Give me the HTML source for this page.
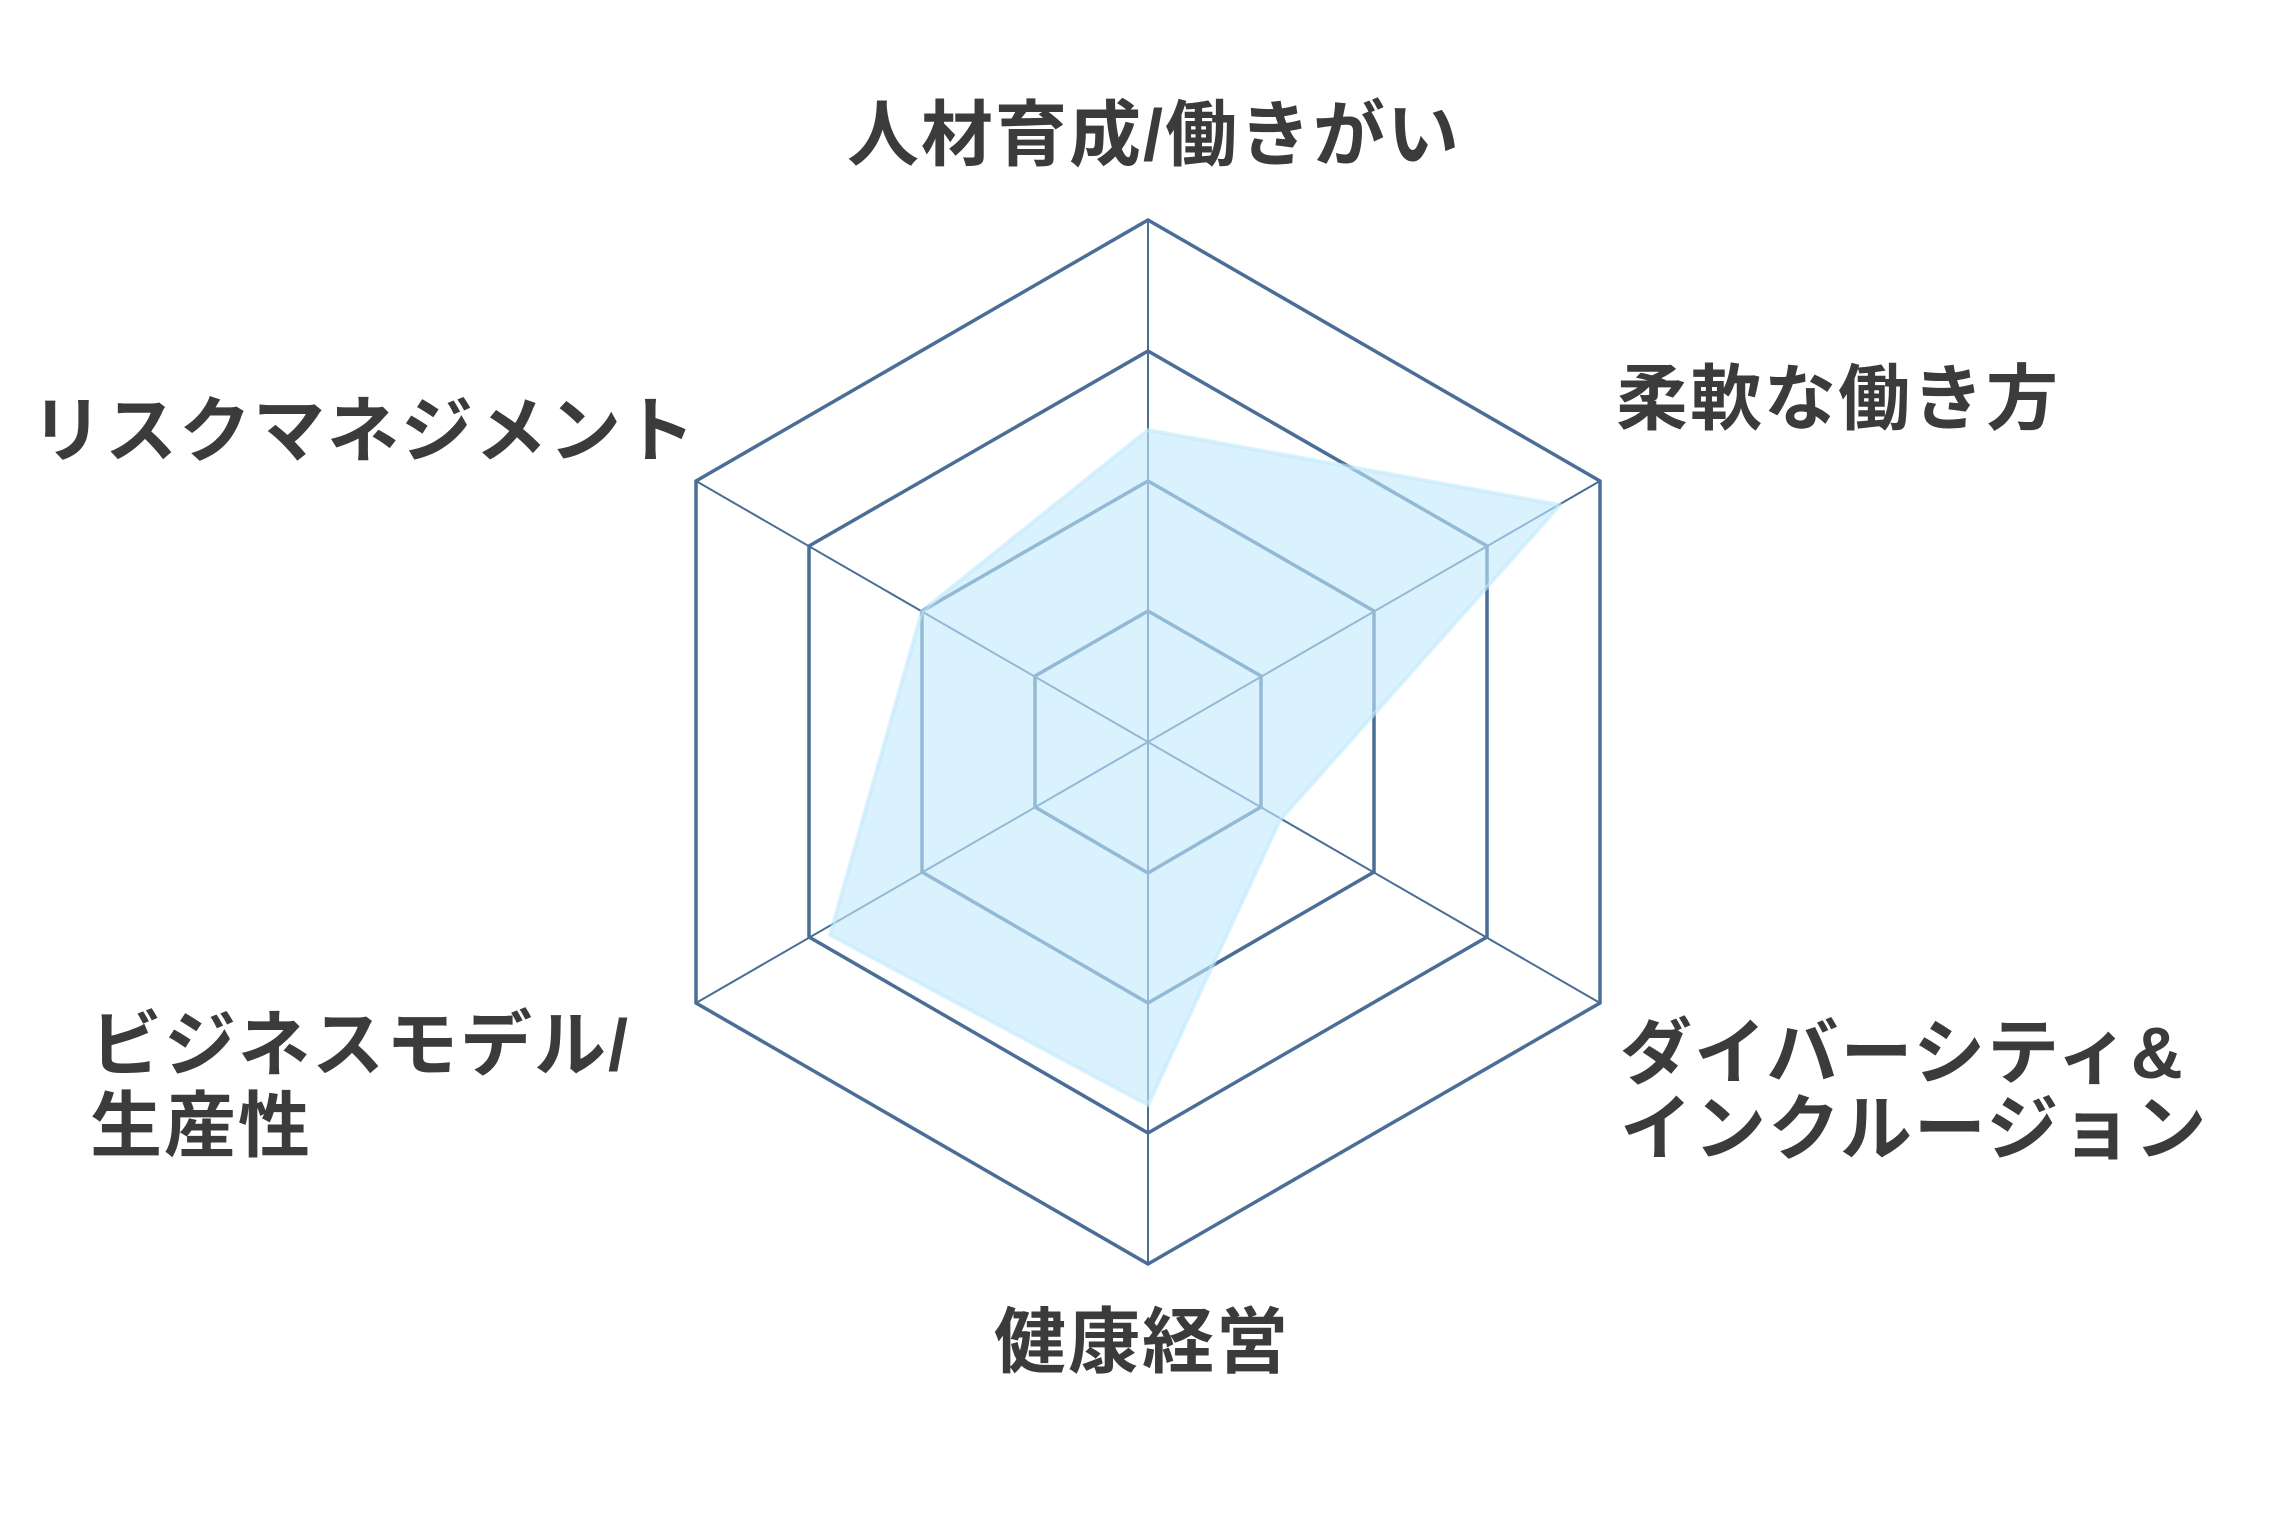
<!DOCTYPE html>
<html><head><meta charset="utf-8"><style>
html,body{margin:0;padding:0;background:#fff;}
svg{display:block;}
text{font-family:"Liberation Sans","Noto Sans CJK JP",sans-serif;font-weight:bold;font-size:72px;fill:#3b3b3b;letter-spacing:2px;}
</style></head><body>
<svg width="2285" height="1536" viewBox="0 0 2285 1536" xmlns="http://www.w3.org/2000/svg">
<g fill="none" stroke-linejoin="miter" stroke="#4a6e95">
<polygon points="1148,611 1261,676 1261,807 1148,873 1035,807 1035,676" stroke-width="3.5"/>
<polygon points="1148,481 1374,611 1374,872 1148,1003 922,872 922,611" stroke-width="3.5"/>
<polygon points="1148,351 1487,546 1487,937 1148,1133 809,937 809,546" stroke-width="3.5"/>
<polygon points="1148,220 1600,481 1600,1003 1148,1264 696,1003 696,481" stroke-width="3.5"/>
<g stroke-width="2">
<line x1="1148" y1="220" x2="1148" y2="1264"/>
<line x1="696" y1="481" x2="1600" y2="1003"/>
<line x1="696" y1="1003" x2="1600" y2="481"/>
</g>
</g>
<polygon points="1148,430 1560,505 1280,820 1148,1105 830,935 922,611" fill="rgb(194,233,252)" fill-opacity="0.61" stroke="rgb(194,233,252)" stroke-opacity="0.6" stroke-width="4" stroke-linejoin="round"/>
<text x="847" y="160">人材育成/働きがい</text>
<text x="1616" y="424">柔軟な働き方</text>
<text x="31" y="456">リスクマネジメント</text>
<text x="90" y="1070">ビジネスモデル/</text>
<text x="90" y="1151">生産性</text>
<text x="1620" y="1078">ダイバーシティ&amp;</text>
<text x="1620" y="1154">インクルージョン</text>
<text x="994" y="1367">健康経営</text>
</svg>
</body></html>
